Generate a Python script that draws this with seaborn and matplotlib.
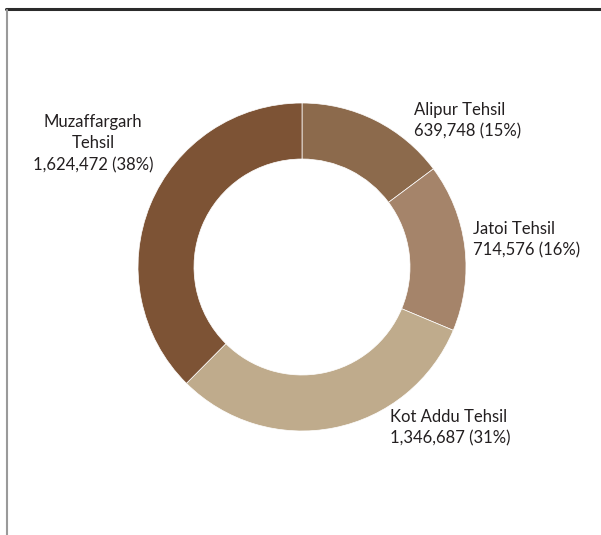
import matplotlib
matplotlib.use("Agg")
import matplotlib.pyplot as plt
from matplotlib.lines import Line2D
import seaborn as sns

# Population by tehsil, Muzaffargarh district
tehsils = ["Alipur Tehsil", "Jatoi Tehsil", "Kot Addu Tehsil", "Muzaffargarh\nTehsil"]
population = [639748, 714576, 1346687, 1624472]
percent = [15, 16, 31, 38]
colors = ["#8C6A4C", "#A5846A", "#BFAB8C", "#7D5335"]

sns.set_theme(style="white")
plt.rcParams["font.family"] = ["Lato", "DejaVu Sans"]

W, H = 601, 535
fig = plt.figure(figsize=(W / 100, H / 100), dpi=100)
ax = fig.add_axes([0, 0, 1, 1])

cx, cy, R, ring = 302, H - 267, 164, 56
ax.pie(population, colors=colors, startangle=90, counterclock=False,
       center=(cx, cy), radius=R,
       wedgeprops=dict(width=ring, edgecolor="white", linewidth=0.5))
ax.set_xlim(0, W)
ax.set_ylim(0, H)
ax.set_aspect("equal")
ax.axis("off")

# label anchors (pixel coords from top-left) and alignment
anchors = [(414, 102, "left"), (473, 221, "left"), (390, 409, "left"), (93, 114, "center")]
for name, pop, pct, (x, y, ha) in zip(tehsils, population, percent, anchors):
    ax.text(x, H - y, f"{name}\n{pop:,} ({pct}%)", ha=ha, va="top",
            fontsize=12, color="#231f20", linespacing=1.42)

# frame rules: dark top line, grey left line
fig.add_artist(Line2D([6 / W, 1], [1 - 9 / H, 1 - 9 / H], transform=fig.transFigure,
                      color="#2b2b2b", linewidth=2.2))
fig.add_artist(Line2D([6.5 / W, 6.5 / W], [1 - 10 / H, 0], transform=fig.transFigure,
                      color="#9a9a9a", linewidth=1.5))

fig.savefig("out.png", dpi=100, facecolor="white")
